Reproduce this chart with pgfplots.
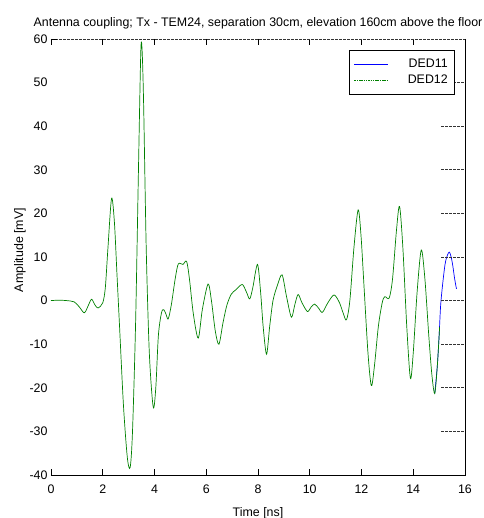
\documentclass[border=0pt]{standalone}
\usepackage{pgfplots}
\pgfplotsset{compat=1.18}
\usepackage{fontspec}
\setmainfont{Liberation Sans}
\definecolor{mgreen}{RGB}{0,128,0}
\definecolor{mblue}{RGB}{0,0,255}
\pgfplotstableread{
x y
0 0
0.3 0.1
0.6 0
0.9 -0.3
1.1 -1.5
1.29 -2.8
1.45 -1.0
1.57 0.3
1.7 -1.0
1.82 -1.7
2.0 -0.5
2.1 3
2.2 12
2.34 23.4
2.45 18
2.55 6
2.65 -6
2.8 -24
2.95 -36
3.06 -38.2
3.15 -30
3.27 -5
3.38 30
3.47 57
3.52 57.5
3.58 45
3.68 12
3.8 -12
3.95 -24.4
4.05 -20
4.15 -8
4.27 -2.8
4.36 -2.1
4.45 -3.2
4.53 -4.2
4.65 -1
4.8 5
4.92 8.4
5.1 8.3
5.24 9.0
5.35 5
5.5 -3
5.69 -8.6
5.85 -2
6.07 3.8
6.2 0
6.35 -7
6.49 -10
6.65 -5
6.8 -1
6.97 1.5
7.15 2.5
7.39 3.7
7.55 2
7.68 0.4
7.8 3
7.98 8.3
8.1 2
8.2 -6
8.33 -12.3
8.45 -6
8.58 0
8.75 3.5
8.93 5.9
9.1 1
9.29 -3.8
9.42 -1
9.55 1.4
9.7 -0.5
9.91 -2.5
10.05 -1.5
10.19 -0.8
10.35 -1.8
10.49 -2.7
10.7 -0.5
10.94 1.3
11.15 -0.5
11.3 -3
11.42 -4.4
11.55 0
11.71 12.3
11.87 20.8
11.98 15
12.1 3
12.25 -12
12.38 -19.5
12.5 -15
12.65 -6
12.8 -0.5
12.9 0.9
13.07 0.6
13.2 5
13.35 16
13.47 21.6
13.6 12
13.75 -6
13.89 -17.8
14.0 -12
14.15 2
14.31 11.6
14.45 5
14.6 -8
14.72 -17
14.83 -21.3
14.93 -15
15.02 -6
}\dedtwelve
\pgfplotstableread{
x y
14.83 -21.3
14.93 -15
15.0 -8
15.06 -1
15.15 4.5
15.25 9
15.39 11.1
15.5 9
15.6 5
15.67 2.7
}\dedeleven
\begin{document}
\begin{tikzpicture}
\begin{axis}[
  scale only axis,
  width=414pt, height=436pt,
  xmin=0, xmax=16, ymin=-40, ymax=60,
  xtick={0,2,...,16}, ytick={-40,-30,...,60},
  axis line style={draw=none},
  xtick pos=both, xtick align=inside,
  major tick length=6pt,
  xtick style={black, line width=0.6pt},
  ytick style={draw=none},
  tick label style={font=\fontsize{12.4}{14}\selectfont},
  xticklabel style={yshift=-6pt},
  /pgf/number format/assume math mode=true,
  title={Antenna coupling; Tx - TEM24, separation 30cm, elevation 160cm above the floor},
  title style={font=\fontsize{12.4}{14}\selectfont},
  xlabel={Time [ns]},
  ylabel={Amplitude [mV]},
  xlabel shift=7pt,
  ylabel style={at={(ticklabel cs:0.516,-3pt)}},
  label style={font=\fontsize{12.4}{14}\selectfont},
  legend style={at={(0.976,0.975)}, anchor=north east, draw=black, line width=0.6pt,
    font=\fontsize{12.4}{14}\selectfont, row sep=1.5pt, inner xsep=5pt, inner ysep=7pt,
    /tikz/column sep=17pt},
  legend cell align=right,
  clip=false,
]
\addplot[mblue, line width=0.7pt, smooth, tension=0.5,
  legend image code/.code={\draw[draw=mblue, line width=0.6pt] (0pt,0pt) -- (34pt,0pt);}]
  table {\dedeleven};
\addlegendentry{DED11}
\addplot[mgreen, line width=0.7pt, smooth, tension=0.5,
  legend image code/.code={\draw[draw=mgreen, line width=0.6pt, dash pattern=on 1.5pt off 0.8pt] (0pt,0pt) -- (34pt,0pt);}]
  table {\dedtwelve};
\addlegendentry{DED12}
\draw[black, line width=0.7pt] (rel axis cs:0,0) -- (rel axis cs:1,0) -- (rel axis cs:1,1);
\draw[black!80, line width=0.7pt, dash pattern=on 3pt off 1pt] (rel axis cs:0,1) -- (rel axis cs:1,1);
\draw[black, line width=0.7pt] (rel axis cs:0,1) -- ++(6pt,0pt);
\pgfplotsinvokeforeach{-30,-20,...,50}{
  \draw[black!80, line width=0.7pt, dash pattern=on 3pt off 1pt] (axis cs:15.08,#1) -- (axis cs:16,#1);
}
\coordinate (ll) at (rel axis cs:0,0);
\coordinate (ur) at (rel axis cs:1,1);
\end{axis}
\pgfresetboundingbox
\path[use as bounding box] ([shift={(-51pt,-43pt)}]ll) rectangle ([shift={(19pt,39pt)}]ur);
\end{tikzpicture}
\end{document}
